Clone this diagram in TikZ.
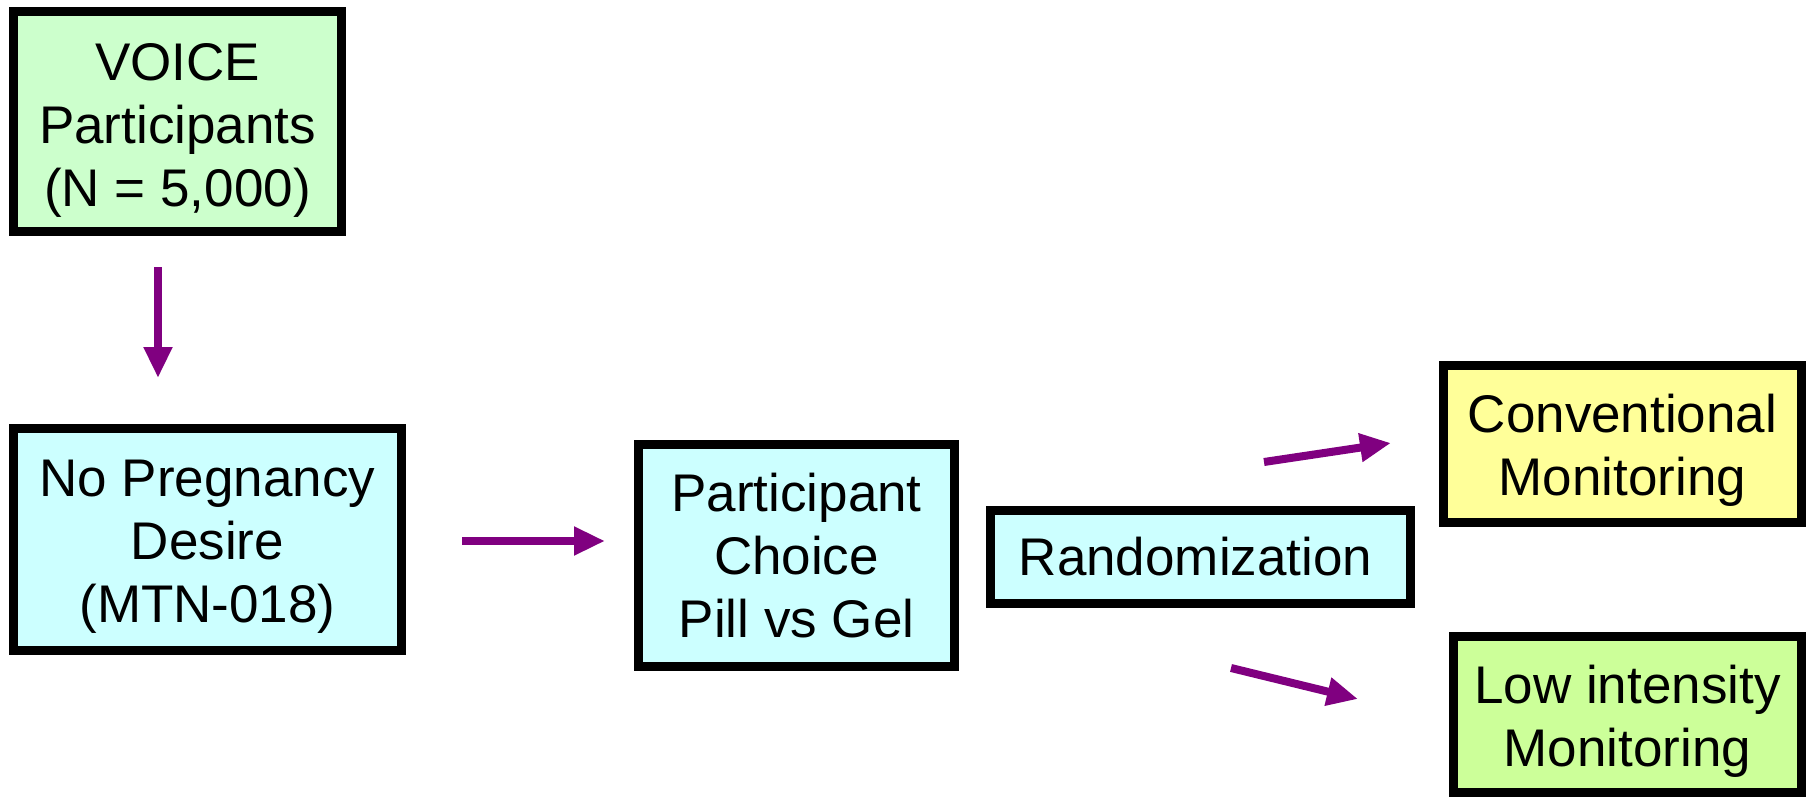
\documentclass[tikz,border=0pt]{standalone}
\usepackage{fontspec}
\setmainfont{Liberation Sans}
\usetikzlibrary{arrows.meta}
\definecolor{lgreen}{HTML}{CCFFCC}
\definecolor{lcyan}{HTML}{CCFFFF}
\definecolor{lyellow}{HTML}{FFFF99}
\definecolor{lime}{HTML}{CCFF99}
\definecolor{arrowpurple}{HTML}{800080}
\newcommand\mystrut[1]{\rule{0pt}{#1}}
\begin{document}
\begin{tikzpicture}[x=1pt,y=-1pt,
  box/.style={draw=black, line width=9pt, align=center, inner sep=0pt,
    font=\fontsize{53}{63}\selectfont},
  flow/.style={draw=arrowpurple, line width=8pt,
    -{Triangle[length=31pt,width=27pt]}}]
\useasboundingbox[fill=white] (0,0) rectangle (1808,797);
\node[box, fill=lgreen, minimum width=328pt, minimum height=220pt] (voice) at (177.5,121.5) {\mystrut{54pt}VOICE\\Participants\\(N = 5,000)};
\node[box, fill=lcyan, minimum width=388pt, minimum height=222pt] (nopreg) at (207.5,539.5) {\mystrut{50pt}No Pregnancy\\Desire\\(MTN-018)};
\node[box, fill=lcyan, minimum width=316pt, minimum height=222pt] (choice) at (796.5,555.5) {Participant\\Choice\\Pill vs Gel};
\node[box, fill=lcyan, minimum width=420pt, minimum height=93pt] (rand) at (1200.5,557) {\hspace*{-10pt}Randomization};
\node[box, fill=lyellow, minimum width=358pt, minimum height=157pt] (conv) at (1622.5,444) {\mystrut{50pt}Conventional\\Monitoring};
\node[box, fill=lime, minimum width=348pt, minimum height=156pt] (low) at (1627.5,714) {\mystrut{52pt}Low intensity\\Monitoring};
\coordinate (a1s) at (158,267);
\coordinate (a1e) at (158,378);
\coordinate (a2s) at (462,541);
\coordinate (a2e) at (605,541);
\coordinate (a3s) at (1264,462);
\coordinate (a3e) at (1391,443);
\coordinate (a4s) at (1231,668);
\coordinate (a4e) at (1358,699);
\draw[flow] (a1s) -- (a1e);
\draw[flow] (a2s) -- (a2e);
\draw[flow] (a3s) -- (a3e);
\draw[flow] (a4s) -- (a4e);
\end{tikzpicture}
\end{document}
